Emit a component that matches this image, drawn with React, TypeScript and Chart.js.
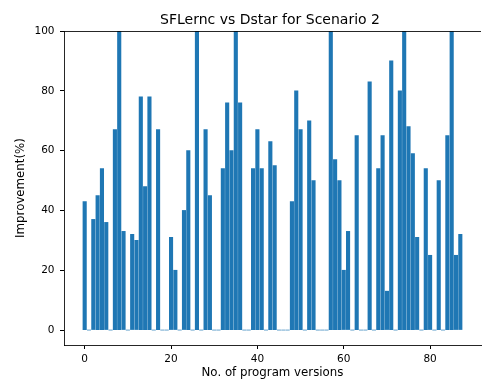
import React, { useEffect, useRef } from "react";
import { Chart, registerables } from "chart.js";

Chart.register(...registerables);

const TITLE = "SFLernc vs Dstar for Scenario 2";
const X_LABEL = "No. of program versions";
const Y_LABEL = "Improvement(%)";

const versions: number[] = Array.from({ length: 88 }, (_, i) => i);
const improvement: number[] = [
  43, 0, 37, 45, 54, 36, 0, 67, 100, 33,
  0, 32, 30, 78, 48, 78, 0, 67, 0, 0,
  31, 20, 0, 40, 60, 0, 100, 0, 67, 45,
  0, 0, 54, 76, 60, 100, 76, 0, 0, 54,
  67, 54, 0, 63, 55, 0, 0, 0, 43, 80,
  67, 0, 70, 50, 0, 0, 0, 100, 57, 50,
  20, 33, 0, 65, 0, 0, 83, 0, 54, 65,
  13, 90, 0, 80, 100, 68, 59, 31, 0, 54,
  25, 0, 50, 0, 65, 100, 25, 32,
];
const xTicks: number[] = [0, 20, 40, 60, 80];
const yTicks: number[] = [0, 20, 40, 60, 80, 100];

const X_MIN = -4.79;
const X_MAX = 91.79;
const FONT = "'DejaVu Sans', sans-serif";

export default function App() {
  const ref = useRef<HTMLCanvasElement | null>(null);

  useEffect(() => {
    if (!ref.current) return;
    const decor = {
      id: "decor",
      afterDraw(chart: any) {
        const { ctx, chartArea } = chart;
        ctx.save();
        ctx.strokeStyle = "rgba(0,0,0,0.85)";
        ctx.lineWidth = 1;
        ctx.beginPath();
        ctx.moveTo(chartArea.left, Math.round(chartArea.top) + 0.5);
        ctx.lineTo(chartArea.right, Math.round(chartArea.top) + 0.5);
        ctx.stroke();
        ctx.fillStyle = "#000";
        ctx.font = `14px ${FONT}`;
        ctx.textAlign = "center";
        ctx.textBaseline = "alphabetic";
        ctx.fillText(TITLE, (chartArea.left + chartArea.right) / 2 - 2.5, 24);
        ctx.restore();
      },
    };
    const plotWidth = 417;
    const chart = new Chart(ref.current, {
      type: "bar",
      data: {
        datasets: [
          {
            data: versions.map((v, i) => ({ x: v, y: improvement[i] })),
            backgroundColor: "#1f77b4",
            borderWidth: 0,
            barThickness: (0.8 * plotWidth) / (X_MAX - X_MIN),
          },
        ],
      },
      plugins: [decor],
      options: {
        animation: false,
        responsive: false,
        devicePixelRatio: 1,
        layout: { padding: { left: 0, top: 31, right: 1, bottom: 0 } },
        plugins: {
          legend: { display: false },
          tooltip: { enabled: false },
          title: { display: false },
        },
        scales: {
          x: {
            type: "linear",
            min: X_MIN,
            max: X_MAX,
            offset: false,
            afterBuildTicks: (s: any) => {
              s.ticks = xTicks.map((v) => ({ value: v }));
            },
            afterFit: (s: any) => {
              s.height = 36;
            },
            grid: { drawOnChartArea: false, drawTicks: true, tickLength: 4, color: "#000", offset: false },
            border: { display: true, color: "rgba(0,0,0,0.85)", width: 1 },
            ticks: {
              color: "#000",
              font: { family: FONT, size: 10.5 },
              padding: 3.5,
              maxRotation: 0,
              autoSkip: false,
            },
            title: {
              display: true,
              text: X_LABEL,
              color: "#000",
              font: { family: FONT, size: 11.8 },
              padding: { top: 0, bottom: 1.1 },
            },
          },
          y: {
            type: "linear",
            min: -5,
            max: 100,
            afterBuildTicks: (s: any) => {
              s.ticks = yTicks.map((v) => ({ value: v }));
            },
            afterFit: (s: any) => {
              s.width = 64;
            },
            grid: { drawOnChartArea: false, drawTicks: true, tickLength: 4, color: "#000" },
            border: { display: true, color: "rgba(0,0,0,0.85)", width: 1 },
            ticks: {
              color: "#000",
              font: { family: FONT, size: 10.5 },
              padding: 5.5,
              autoSkip: false,
            },
            title: {
              display: true,
              text: Y_LABEL,
              color: "#000",
              font: { family: FONT, size: 11.8 },
              padding: { top: 13.5, bottom: 0 },
            },
          },
        },
      } as any,
    });
    return () => chart.destroy();
  }, []);

  return (
    <div style={{ position: "fixed", left: 0, top: 0, width: 482, height: 381, background: "#fff" }}>
      <canvas ref={ref} width={482} height={381} />
    </div>
  );
}
